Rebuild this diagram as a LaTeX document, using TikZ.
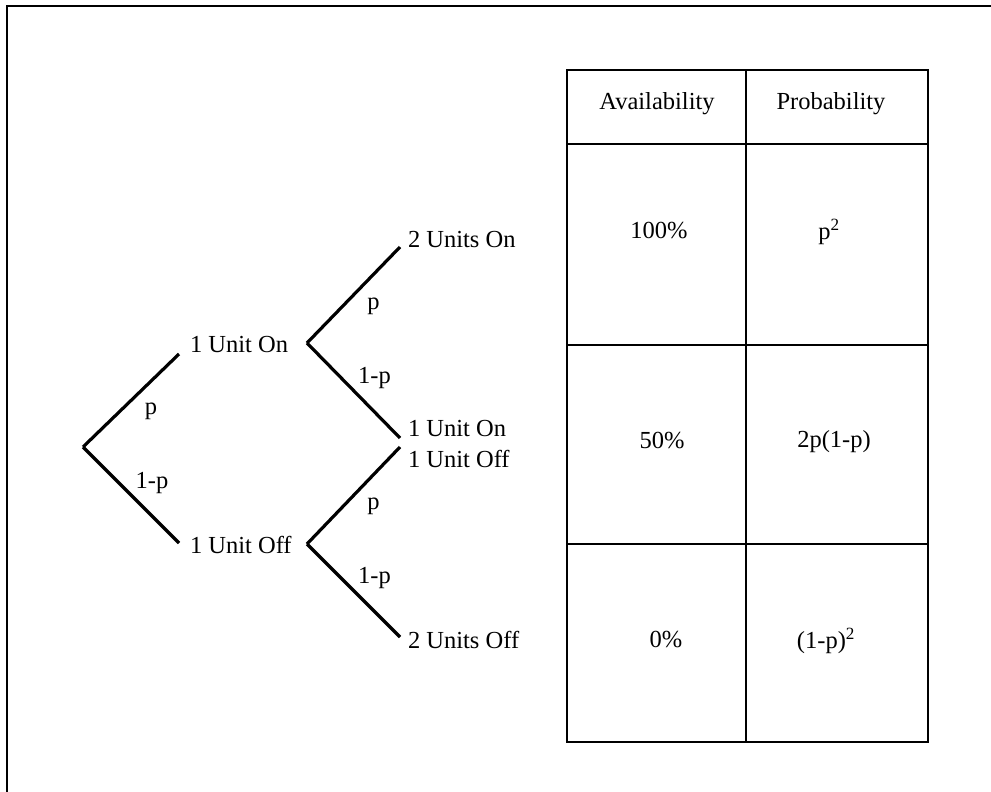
\documentclass[tikz,border=0pt]{standalone}
\usepackage{fontspec}
\setmainfont{Liberation Serif}
\usetikzlibrary{positioning,calc}
\tikzset{
    frame line/.style={line width=2.5pt},
    branch/.style={line width=3.2pt},
    grid line/.style={line width=2.4pt},
    state/.style={inner sep=0pt,outer sep=0pt,anchor=west},
    prob label/.style={inner sep=0pt,outer sep=0pt},
    upper prob/.style={prob label,xshift=20pt,yshift=-11pt},
    lower prob/.style={prob label,xshift=21pt,yshift=12pt},
    cell/.style={inner sep=0pt,outer sep=0pt},
}
\tikzstyle{every node}=[font=\fontsize{24.5}{29}\selectfont]

\begin{document}
\begin{tikzpicture}[x=1pt,y=-1pt]
        \useasboundingbox (0,0) rectangle (991,792);
        \draw[frame line] (991,6) -- (7,6) -- (7,792);

        % tree
        \coordinate (root) at (83,447);
        \coordinate (fork on) at (307,343);
        \coordinate (fork off) at (307,544);
        \node[state] (on1) at (190,345) {1 Unit On};
        \node[state] (off1) at (190,545) {1 Unit Off};
        \node[state] (on2) at (408,240) {2 Units On};
        \node[state] (mix on) at (408,429) {1 Unit On};
        \node[state] (mix off) at (408,459) {1 Unit Off};
        \node[state] (off2) at (408,640) {2 Units Off};

        \draw[branch] (root) -- ([shift={(-11,9)}]on1.west) node[upper prob,midway] {p};
        \draw[branch] (root) -- ([shift={(-11,-2)}]off1.west) node[lower prob,midway] {1-p};
        \draw[branch] (fork on) -- ([shift={(-8,7)}]on2.west) node[upper prob,midway] {p};
        \draw[branch] (fork on) -- ([shift={(-8,9)}]mix on.west) node[lower prob,midway] {1-p};
        \draw[branch] (fork off) -- ([shift={(-8,-12)}]mix off.west) node[upper prob,midway] {p};
        \draw[branch] (fork off) -- ([shift={(-8,-3)}]off2.west) node[lower prob,midway] {1-p};

        % table
        \draw[grid line] (567,70) rectangle (928,742);
        \draw[grid line] (746,70) -- (746,742);
        \foreach \y in {144,345,544}
            \draw[grid line] (567,\y) -- (928,\y);

        \node[cell] (head avail) at (657,104) {Availability};
        \node[cell] (head prob) at (831,104) {Probability};
        \node[cell] (avail full) at (659,231) {100\%};
        \node[cell] (prob full) at (829,232) {p\textsuperscript{2}};
        \node[cell] (avail half) at (662,441) {50\%};
        \node[cell] (prob half) at (834,442) {2p(1-p)};
        \node[cell] (avail none) at (666,640) {0\%};
        \node[cell] (prob none) at (826,641) {(1-p)\textsuperscript{2}};
\end{tikzpicture}
\end{document}
